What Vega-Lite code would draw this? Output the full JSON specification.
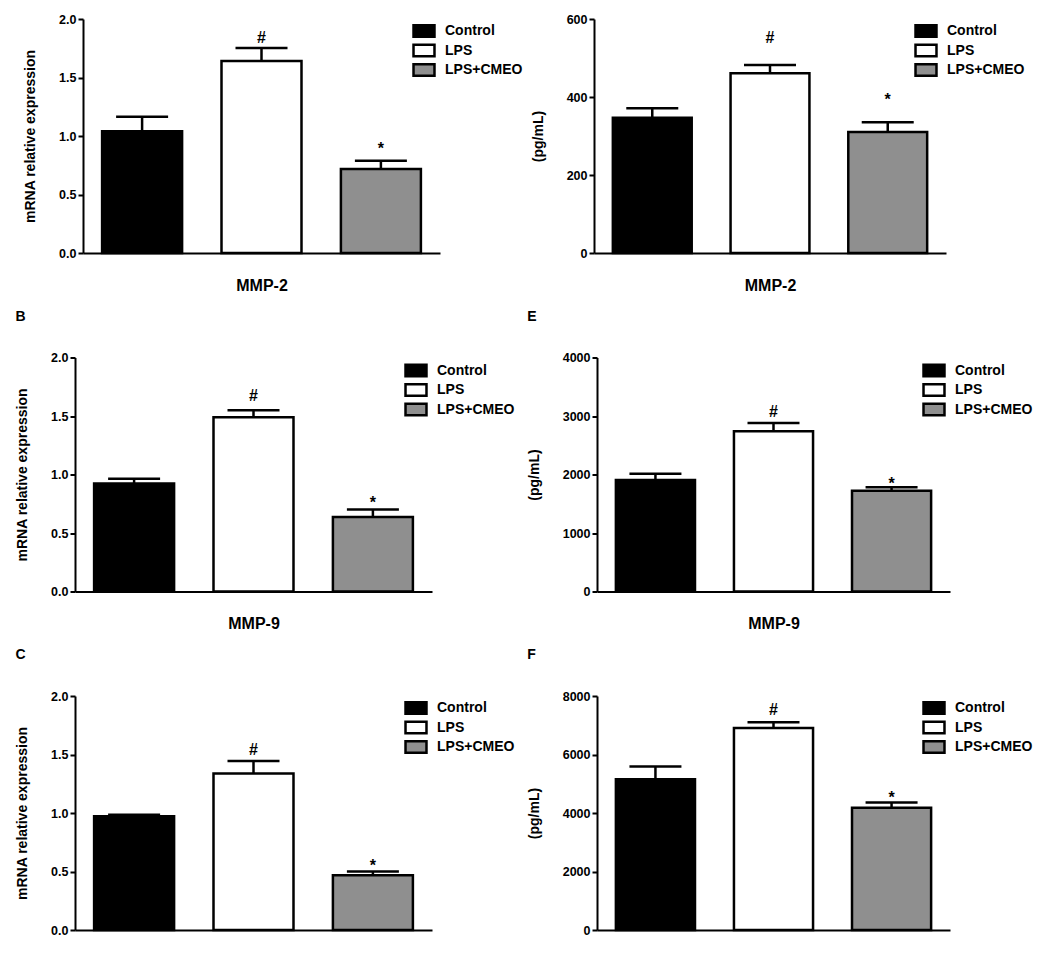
{
  "$schema": "https://vega.github.io/schema/vega-lite/v6.json",
  "padding": {"left": 15, "top": 13, "right": 0, "bottom": 0},
  "background": "white",
  "config": {
    "view": {"stroke": null},
    "font": "Liberation Sans",
    "axis": {"domainColor": "black", "domainWidth": 2, "tickColor": "black", "tickWidth": 2, "tickSize": 5, "labelColor": "black", "labelFont": "Liberation Sans", "labelFontWeight": "bold", "labelFontSize": 12.5, "labelPadding": 2, "titleFont": "Liberation Sans", "titleFontWeight": "bold", "titleColor": "black", "grid": false},
    "axisX": {"titleFontSize": 16, "labels": false, "ticks": false, "titlePadding": 24},
    "axisY": {"titleFontSize": 14, "titlePadding": 21},
    "legend": {"orient": "none", "title": null, "symbolType": "M-2,-1.1H2V1.1H-2Z", "symbolSize": 110, "symbolStrokeColor": "black", "symbolStrokeWidth": 2, "labelFont": "Liberation Sans", "labelFontWeight": "bold", "labelFontSize": 14, "labelColor": "black", "labelOffset": 14, "rowPadding": -2.5},
    "title": {"anchor": "start", "frame": "bounds", "font": "Liberation Sans", "fontSize": 14, "fontWeight": "bold", "color": "black", "offset": 28},
    "bar": {"stroke": "black", "strokeWidth": 2.5},
    "text": {"font": "Liberation Sans", "fontWeight": "bold", "fontSize": 16, "color": "black", "baseline": "alphabetic"}
  },
  "datasets": {
    "d": [
      {"panel": "A", "group": "Control", "value": 1.04, "upper": 1.165, "sig": ""},
      {"panel": "A", "group": "LPS", "value": 1.64, "upper": 1.752, "sig": "#"},
      {"panel": "A", "group": "LPS+CMEO", "value": 0.718, "upper": 0.789, "sig": "*"},
      {"panel": "D", "group": "Control", "value": 347, "upper": 371, "sig": ""},
      {"panel": "D", "group": "LPS", "value": 461, "upper": 482, "sig": "#"},
      {"panel": "D", "group": "LPS+CMEO", "value": 310, "upper": 335, "sig": "*"},
      {"panel": "B", "group": "Control", "value": 0.924, "upper": 0.964, "sig": ""},
      {"panel": "B", "group": "LPS", "value": 1.49, "upper": 1.549, "sig": "#"},
      {"panel": "B", "group": "LPS+CMEO", "value": 0.636, "upper": 0.70, "sig": "*"},
      {"panel": "E", "group": "Control", "value": 1905, "upper": 2013, "sig": ""},
      {"panel": "E", "group": "LPS", "value": 2738, "upper": 2880, "sig": "#"},
      {"panel": "E", "group": "LPS+CMEO", "value": 1722, "upper": 1780, "sig": "*"},
      {"panel": "C", "group": "Control", "value": 0.973, "upper": 0.985, "sig": ""},
      {"panel": "C", "group": "LPS", "value": 1.337, "upper": 1.445, "sig": "#"},
      {"panel": "C", "group": "LPS+CMEO", "value": 0.469, "upper": 0.50, "sig": "*"},
      {"panel": "F", "group": "Control", "value": 5154, "upper": 5587, "sig": ""},
      {"panel": "F", "group": "LPS", "value": 6908, "upper": 7099, "sig": "#"},
      {"panel": "F", "group": "LPS+CMEO", "value": 4177, "upper": 4358, "sig": "*"}
    ]
  },
  "data": {"name": "d"},
  "spacing": 16.5,
  "center": true,
  "resolve": {"scale": {"x": "independent", "y": "independent", "fill": "independent"}, "legend": {"fill": "independent"}, "axis": {"x": "independent", "y": "independent"}},
  "vconcat": [
    {
      "spacing": 8,
      "resolve": {"scale": {"x": "independent", "y": "independent", "fill": "independent"}, "legend": {"fill": "independent"}, "axis": {"x": "independent", "y": "independent"}},
      "hconcat": [
        {
          "width": 357, "height": 234,
          "transform": [{"filter": "datum.panel === 'A'"}],
          "encoding": {"x": {"field": "group", "type": "nominal", "sort": ["Control", "LPS", "LPS+CMEO"], "scale": {"paddingInner": 0.33, "paddingOuter": 0.16}, "axis": {"title": "MMP-2"}}},
          "layer": [
            {"mark": {"type": "bar"}, "encoding": {
              "y": {"field": "value", "type": "quantitative", "title": "mRNA relative expression", "scale": {"domain": [0, 2], "nice": false}, "axis": {"values": [0, 0.5, 1, 1.5, 2], "format": ".1f"}},
              "fill": {"field": "group", "type": "nominal", "scale": {"domain": ["Control", "LPS", "LPS+CMEO"], "range": ["black", "white", "#8f8f8f"]}, "legend": {"legendX": 334, "legendY": 5}}}},
            {"mark": {"type": "rule", "strokeWidth": 2.5, "color": "black"}, "encoding": {"y": {"field": "value", "type": "quantitative", "title": "mRNA relative expression"}, "y2": {"field": "upper"}}},
            {"mark": {"type": "tick", "thickness": 2.5, "size": 52, "color": "black", "opacity": 1}, "encoding": {"y": {"field": "upper", "type": "quantitative", "title": "mRNA relative expression"}}},
            {"transform": [{"filter": "datum.sig === '#'"}], "mark": {"type": "text", "dy": -5}, "encoding": {"y": {"field": "upper", "type": "quantitative", "title": "mRNA relative expression"}, "text": {"field": "sig"}}},
            {"transform": [{"filter": "datum.sig === '*'"}], "mark": {"type": "text", "dy": -7}, "encoding": {"y": {"field": "upper", "type": "quantitative", "title": "mRNA relative expression"}, "text": {"field": "sig"}}}
          ]
        },
        {
          "width": 352, "height": 234,
          "transform": [{"filter": "datum.panel === 'D'"}],
          "encoding": {"x": {"field": "group", "type": "nominal", "sort": ["Control", "LPS", "LPS+CMEO"], "scale": {"paddingInner": 0.33, "paddingOuter": 0.16}, "axis": {"title": "MMP-2"}}},
          "layer": [
            {"mark": {"type": "bar"}, "encoding": {
              "y": {"field": "value", "type": "quantitative", "title": "(pg/mL)", "scale": {"domain": [0, 600], "nice": false}, "axis": {"values": [0, 200, 400, 600], "format": "d"}},
              "fill": {"field": "group", "type": "nominal", "scale": {"domain": ["Control", "LPS", "LPS+CMEO"], "range": ["black", "white", "#8f8f8f"]}, "legend": {"legendX": 325, "legendY": 5}}}},
            {"mark": {"type": "rule", "strokeWidth": 2.5, "color": "black"}, "encoding": {"y": {"field": "value", "type": "quantitative", "title": "(pg/mL)"}, "y2": {"field": "upper"}}},
            {"mark": {"type": "tick", "thickness": 2.5, "size": 52, "color": "black", "opacity": 1}, "encoding": {"y": {"field": "upper", "type": "quantitative", "title": "(pg/mL)"}}},
            {"transform": [{"filter": "datum.sig === '#'"}], "mark": {"type": "text", "dy": -22}, "encoding": {"y": {"field": "upper", "type": "quantitative", "title": "(pg/mL)"}, "text": {"field": "sig"}}},
            {"transform": [{"filter": "datum.sig === '*'"}], "mark": {"type": "text", "dy": -17.5}, "encoding": {"y": {"field": "upper", "type": "quantitative", "title": "(pg/mL)"}, "text": {"field": "sig"}}}
          ]
        }
      ]
    },
    {
      "spacing": 12,
      "resolve": {"scale": {"x": "independent", "y": "independent", "fill": "independent"}, "legend": {"fill": "independent"}, "axis": {"x": "independent", "y": "independent"}},
      "hconcat": [
        {
          "width": 357, "height": 234,
          "title": "B",
          "transform": [{"filter": "datum.panel === 'B'"}],
          "encoding": {"x": {"field": "group", "type": "nominal", "sort": ["Control", "LPS", "LPS+CMEO"], "scale": {"paddingInner": 0.33, "paddingOuter": 0.16}, "axis": {"title": "MMP-9"}}},
          "layer": [
            {"mark": {"type": "bar"}, "encoding": {
              "y": {"field": "value", "type": "quantitative", "title": "mRNA relative expression", "scale": {"domain": [0, 2], "nice": false}, "axis": {"values": [0, 0.5, 1, 1.5, 2], "format": ".1f"}},
              "fill": {"field": "group", "type": "nominal", "scale": {"domain": ["Control", "LPS", "LPS+CMEO"], "range": ["black", "white", "#8f8f8f"]}, "legend": {"legendX": 334, "legendY": 6}}}},
            {"mark": {"type": "rule", "strokeWidth": 2.5, "color": "black"}, "encoding": {"y": {"field": "value", "type": "quantitative", "title": "mRNA relative expression"}, "y2": {"field": "upper"}}},
            {"mark": {"type": "tick", "thickness": 2.5, "size": 52, "color": "black", "opacity": 1}, "encoding": {"y": {"field": "upper", "type": "quantitative", "title": "mRNA relative expression"}}},
            {"transform": [{"filter": "datum.sig === '#'"}], "mark": {"type": "text", "dy": -9}, "encoding": {"y": {"field": "upper", "type": "quantitative", "title": "mRNA relative expression"}, "text": {"field": "sig"}}},
            {"transform": [{"filter": "datum.sig === '*'"}], "mark": {"type": "text", "dy": -2}, "encoding": {"y": {"field": "upper", "type": "quantitative", "title": "mRNA relative expression"}, "text": {"field": "sig"}}}
          ]
        },
        {
          "width": 353, "height": 234,
          "title": "E",
          "transform": [{"filter": "datum.panel === 'E'"}],
          "encoding": {"x": {"field": "group", "type": "nominal", "sort": ["Control", "LPS", "LPS+CMEO"], "scale": {"paddingInner": 0.33, "paddingOuter": 0.16}, "axis": {"title": "MMP-9"}}},
          "layer": [
            {"mark": {"type": "bar"}, "encoding": {
              "y": {"field": "value", "type": "quantitative", "title": "(pg/mL)", "scale": {"domain": [0, 4000], "nice": false}, "axis": {"values": [0, 1000, 2000, 3000, 4000], "format": "d"}},
              "fill": {"field": "group", "type": "nominal", "scale": {"domain": ["Control", "LPS", "LPS+CMEO"], "range": ["black", "white", "#8f8f8f"]}, "legend": {"legendX": 330, "legendY": 6}}}},
            {"mark": {"type": "rule", "strokeWidth": 2.5, "color": "black"}, "encoding": {"y": {"field": "value", "type": "quantitative", "title": "(pg/mL)"}, "y2": {"field": "upper"}}},
            {"mark": {"type": "tick", "thickness": 2.5, "size": 52, "color": "black", "opacity": 1}, "encoding": {"y": {"field": "upper", "type": "quantitative", "title": "(pg/mL)"}}},
            {"transform": [{"filter": "datum.sig === '#'"}], "mark": {"type": "text", "dy": -6}, "encoding": {"y": {"field": "upper", "type": "quantitative", "title": "(pg/mL)"}, "text": {"field": "sig"}}},
            {"transform": [{"filter": "datum.sig === '*'"}], "mark": {"type": "text", "dy": 2}, "encoding": {"y": {"field": "upper", "type": "quantitative", "title": "(pg/mL)"}, "text": {"field": "sig"}}}
          ]
        }
      ]
    },
    {
      "spacing": 12,
      "resolve": {"scale": {"x": "independent", "y": "independent", "fill": "independent"}, "legend": {"fill": "independent"}, "axis": {"x": "independent", "y": "independent"}},
      "hconcat": [
        {
          "width": 357, "height": 234,
          "title": "C",
          "transform": [{"filter": "datum.panel === 'C'"}],
          "encoding": {"x": {"field": "group", "type": "nominal", "sort": ["Control", "LPS", "LPS+CMEO"], "scale": {"paddingInner": 0.33, "paddingOuter": 0.16}, "axis": {"title": null}}},
          "layer": [
            {"mark": {"type": "bar"}, "encoding": {
              "y": {"field": "value", "type": "quantitative", "title": "mRNA relative expression", "scale": {"domain": [0, 2], "nice": false}, "axis": {"values": [0, 0.5, 1, 1.5, 2], "format": ".1f"}},
              "fill": {"field": "group", "type": "nominal", "scale": {"domain": ["Control", "LPS", "LPS+CMEO"], "range": ["black", "white", "#8f8f8f"]}, "legend": {"legendX": 334, "legendY": 5}}}},
            {"mark": {"type": "rule", "strokeWidth": 2.5, "color": "black"}, "encoding": {"y": {"field": "value", "type": "quantitative", "title": "mRNA relative expression"}, "y2": {"field": "upper"}}},
            {"mark": {"type": "tick", "thickness": 2.5, "size": 52, "color": "black", "opacity": 1}, "encoding": {"y": {"field": "upper", "type": "quantitative", "title": "mRNA relative expression"}}},
            {"transform": [{"filter": "datum.sig === '#'"}], "mark": {"type": "text", "dy": -6}, "encoding": {"y": {"field": "upper", "type": "quantitative", "title": "mRNA relative expression"}, "text": {"field": "sig"}}},
            {"transform": [{"filter": "datum.sig === '*'"}], "mark": {"type": "text", "dy": -1}, "encoding": {"y": {"field": "upper", "type": "quantitative", "title": "mRNA relative expression"}, "text": {"field": "sig"}}}
          ]
        },
        {
          "width": 353, "height": 234,
          "title": "F",
          "transform": [{"filter": "datum.panel === 'F'"}],
          "encoding": {"x": {"field": "group", "type": "nominal", "sort": ["Control", "LPS", "LPS+CMEO"], "scale": {"paddingInner": 0.33, "paddingOuter": 0.16}, "axis": {"title": null}}},
          "layer": [
            {"mark": {"type": "bar"}, "encoding": {
              "y": {"field": "value", "type": "quantitative", "title": "(pg/mL)", "scale": {"domain": [0, 8000], "nice": false}, "axis": {"values": [0, 2000, 4000, 6000, 8000], "format": "d"}},
              "fill": {"field": "group", "type": "nominal", "scale": {"domain": ["Control", "LPS", "LPS+CMEO"], "range": ["black", "white", "#8f8f8f"]}, "legend": {"legendX": 330, "legendY": 5}}}},
            {"mark": {"type": "rule", "strokeWidth": 2.5, "color": "black"}, "encoding": {"y": {"field": "value", "type": "quantitative", "title": "(pg/mL)"}, "y2": {"field": "upper"}}},
            {"mark": {"type": "tick", "thickness": 2.5, "size": 52, "color": "black", "opacity": 1}, "encoding": {"y": {"field": "upper", "type": "quantitative", "title": "(pg/mL)"}}},
            {"transform": [{"filter": "datum.sig === '#'"}], "mark": {"type": "text", "dy": -7}, "encoding": {"y": {"field": "upper", "type": "quantitative", "title": "(pg/mL)"}, "text": {"field": "sig"}}},
            {"transform": [{"filter": "datum.sig === '*'"}], "mark": {"type": "text", "dy": 0}, "encoding": {"y": {"field": "upper", "type": "quantitative", "title": "(pg/mL)"}, "text": {"field": "sig"}}}
          ]
        }
      ]
    }
  ]
}
